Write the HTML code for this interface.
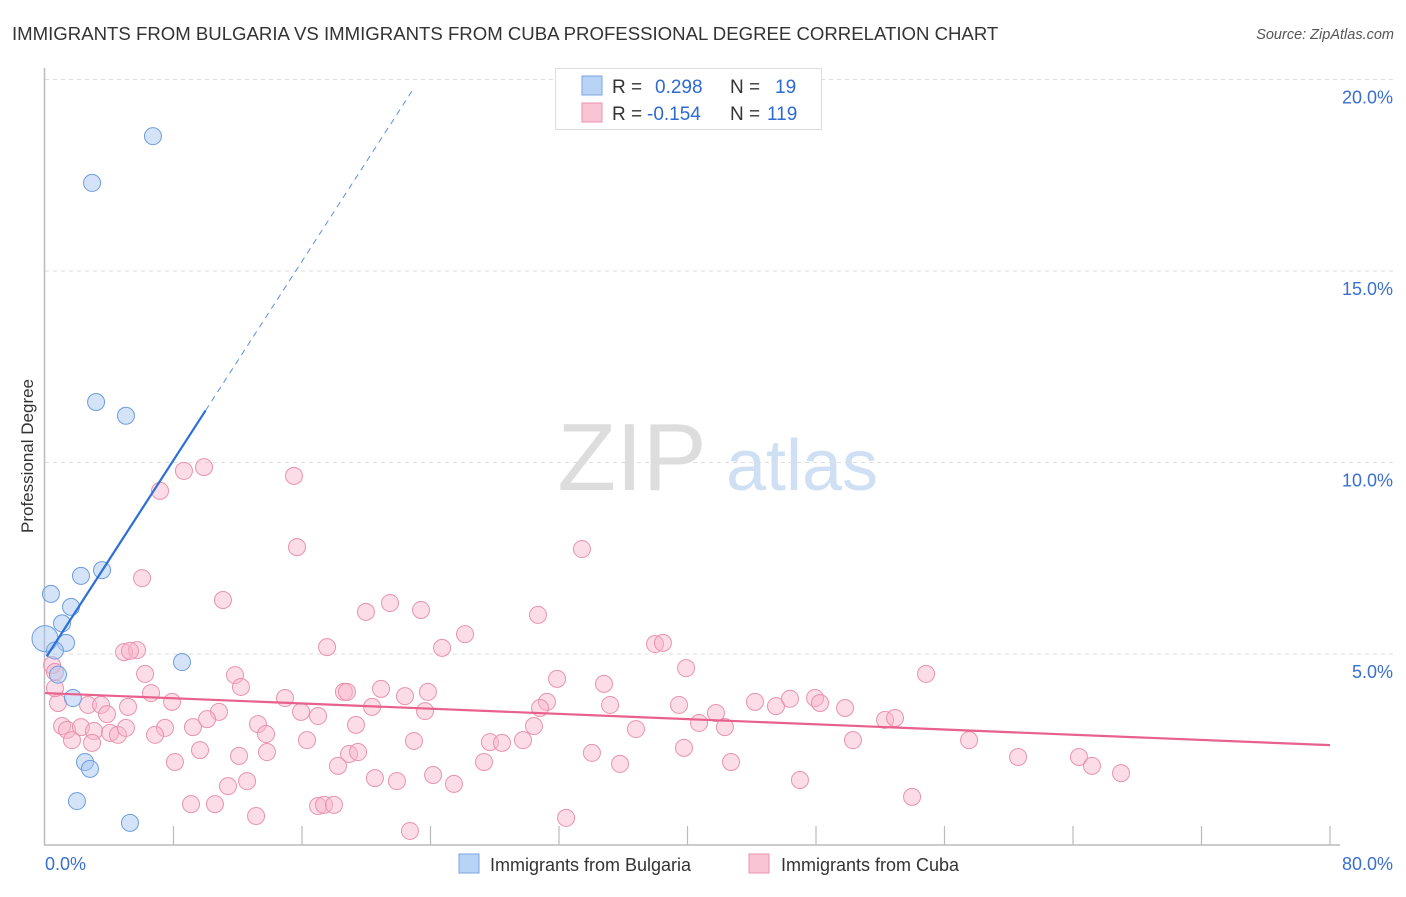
<!DOCTYPE html>
<html><head><meta charset="utf-8"><style>
body{margin:0;background:#fff;font-family:"Liberation Sans",sans-serif;}
svg text{font-family:"Liberation Sans",sans-serif;}
</style></head><body>
<svg id="chart" width="1406" height="892">
<text x="12" y="40" font-size="18.6" fill="#333">IMMIGRANTS FROM BULGARIA VS IMMIGRANTS FROM CUBA PROFESSIONAL DEGREE CORRELATION CHART</text>
<text x="1394" y="39" font-size="14.5" fill="#555" font-style="italic" text-anchor="end">Source: ZipAtlas.com</text>
<text x="632" y="490" font-size="96" fill="#ddd" font-family="Liberation Serif" text-anchor="middle">ZIP</text>
<text x="802" y="490" font-size="72" fill="#cfe0f5" text-anchor="middle">atlas</text>
<text transform="translate(33,456) rotate(-90)" font-size="17" fill="#333" text-anchor="middle">Professional Degree</text>
<g id="grid"></g><g id="pts"></g><g id="lines"></g>
<g>
<rect x="555.5" y="68.5" width="266" height="61" fill="#fff" stroke="#ddd"/>
<rect x="582" y="76" width="20" height="19" fill="#b8d3f5" stroke="#7aa5e0"/>
<rect x="582" y="103" width="20" height="19" fill="#f9c4d4" stroke="#eb94ae"/>
<text x="612" y="93" font-size="19" fill="#333">R = </text><text x="655" y="93" font-size="19" fill="#2e6bd1">0.298</text>
<text x="730" y="93" font-size="19" fill="#333">N = </text><text x="775" y="93" font-size="19" fill="#2e6bd1">19</text>
<text x="612" y="120" font-size="19" fill="#333">R = </text><text x="647" y="120" font-size="19" fill="#2e6bd1">-0.154</text>
<text x="730" y="120" font-size="19" fill="#333">N = </text><text x="767" y="120" font-size="19" fill="#2e6bd1">119</text>
</g>
<g>
<rect x="459" y="854" width="20" height="19" fill="#b8d3f5" stroke="#7aa5e0"/>
<text x="490" y="871" font-size="18" fill="#333">Immigrants from Bulgaria</text>
<rect x="749" y="854" width="20" height="19" fill="#f9c4d4" stroke="#eb94ae"/>
<text x="781" y="871" font-size="18" fill="#333">Immigrants from Cuba</text>
</g>
</svg>
<script>
const xTicks=[0,8,16,24,32,40,48,56,64,72,80];
const yTicks=[5,10,15,20];
const yTickLabels=["5.0%","10.0%","15.0%","20.0%"];
const bulgX=[6.72,2.93,3.18,5.04,3.55,2.24,0.37,1.62,1.06,1.31,0.0,0.62,0.81,8.53,1.74,2.49,2.80,1.99,5.29];
const bulgY=[18.52,17.30,11.58,11.22,7.19,7.04,6.57,6.23,5.80,5.29,5.4,5.09,4.46,4.79,3.85,2.18,2.00,1.16,0.59];
const cubaPx=[[160,491],[184,471],[204,467],[294,476],[297,547],[582,549],[142,578],[223,600],[366,612],[390,603],[421,610],[538,615],[465,634],[327,647],[442,648],[655,644],[663,643],[124,652],[137,650],[130,651],[686,668],[926,674],[145,674],[235,675],[557,679],[241,687],[151,693],[344,692],[347,692],[381,689],[405,696],[428,692],[604,684],[172,702],[285,698],[88,705],[58,703],[128,707],[101,705],[107,714],[219,712],[301,712],[318,716],[372,707],[425,711],[547,702],[540,708],[610,705],[679,705],[755,702],[776,706],[790,699],[815,698],[820,703],[845,708],[885,720],[895,718],[716,713],[699,723],[725,727],[62,726],[67,730],[81,727],[94,731],[110,733],[118,735],[126,728],[165,728],[193,727],[207,719],[258,724],[266,734],[356,725],[534,726],[636,729],[72,740],[92,743],[155,735],[307,740],[414,741],[490,742],[502,743],[523,740],[853,740],[969,740],[200,750],[239,756],[267,752],[349,754],[358,752],[684,748],[592,753],[175,762],[484,762],[620,764],[731,762],[1018,757],[1079,757],[1092,766],[1121,773],[338,766],[247,781],[228,786],[375,778],[397,781],[433,775],[454,784],[800,780],[191,804],[215,804],[318,806],[324,805],[334,805],[912,797],[256,816],[566,818],[410,831],[55,688],[52,665],[55,672]];
const cubaX=cubaPx.map(p=>+((p[0]-45)*80/1285).toFixed(2));
const cubaY=cubaPx.map(p=>+((845.5-p[1])/38.3).toFixed(2));
const bulgTrend=[4.87,0.649];
const cubaTrend=[3.98,-0.017];
const X=v=>45+v*1285/80, Y=v=>845.5-v*38.3;
const NS="http://www.w3.org/2000/svg";
function mk(tag,attrs,parent){const e=document.createElementNS(NS,tag);for(const k in attrs)e.setAttribute(k,attrs[k]);document.getElementById(parent).appendChild(e);return e;}
yTicks.forEach((t,i)=>{
 const g=mk('line',{x1:45,x2:1394,y1:Y(t),y2:Y(t),stroke:'#ddd','stroke-dasharray':'4,4'},'grid');
 
 
 const l=mk('text',{x:1393,y:Y(t)+24,'font-size':18,fill:'#3a6fd0','text-anchor':'end'},'grid');l.textContent=yTickLabels[i];
 
 
});
mk('line',{x1:44.5,x2:44.5,y1:68,y2:845,stroke:'#bbb','stroke-width':1.5},'grid');
mk('line',{x1:44,x2:1340,y1:845,y2:845,stroke:'#bbb','stroke-width':1.5},'grid');
xTicks.forEach(t=>{if(t>0){const m=mk('line',{x1:X(t),x2:X(t),y1:826,y2:845,stroke:'#bbb','stroke-width':1.2},'grid');
 
 }});
let a=mk('text',{x:45,y:870,'font-size':18,fill:'#3a6fd0'},'grid');a.textContent='0.0%';


a=mk('text',{x:1393,y:870,'font-size':18,fill:'#3a6fd0','text-anchor':'end'},'grid');a.textContent='80.0%';


cubaX.forEach((v,i)=>{const c=mk('circle',{cx:X(v),cy:Y(cubaY[i]),r:8.5,fill:'rgba(249,180,202,0.45)',stroke:'#e993ad','stroke-width':1},'pts');
 
 });
bulgX.forEach((v,i)=>{const c=mk('circle',{cx:X(v),cy:Y(bulgY[i]),r:i==10?13:8.5,fill:'rgba(170,200,240,0.5)',stroke:'#6d9de0','stroke-width':1},'pts');
 
 });
let l=mk('line',{x1:X(0.1),y1:Y(bulgTrend[0]+bulgTrend[1]*0.1),x2:X(10),y2:Y(bulgTrend[0]+bulgTrend[1]*10),stroke:'#2d6fd6','stroke-width':2.2},'lines');


l=mk('line',{x1:X(10),y1:Y(bulgTrend[0]+bulgTrend[1]*10),x2:X(23),y2:Y(bulgTrend[0]+bulgTrend[1]*23),stroke:'#5b8fe0','stroke-width':1,'stroke-dasharray':'6,5'},'lines');


l=mk('line',{x1:X(0),y1:Y(cubaTrend[0]),x2:X(80),y2:Y(cubaTrend[0]+cubaTrend[1]*80),stroke:'#e8608c','stroke-width':2.2},'lines');


</script>
</body></html>
